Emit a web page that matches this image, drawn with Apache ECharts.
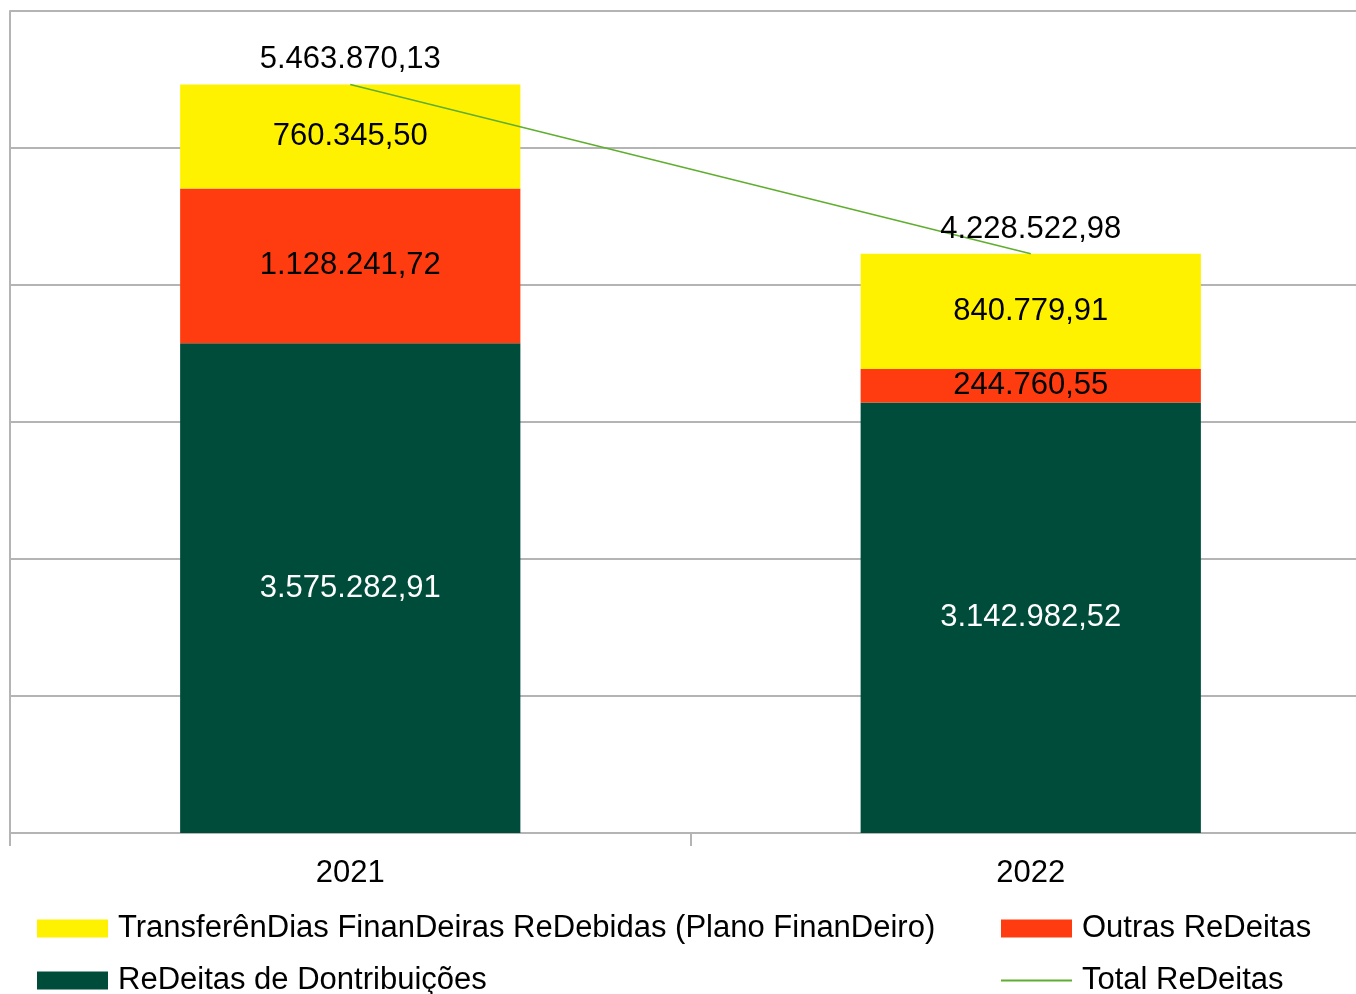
<!DOCTYPE html>
<html>
<head>
<meta charset="utf-8">
<script src="https://cdn.jsdelivr.net/npm/echarts@6/dist/echarts.min.js"></script>
<style>
  html, body { margin: 0; padding: 0; background: #fff; overflow: hidden; }
  #chart { width: 1371px; height: 994px; }
</style>
</head>
<body>
<div id="chart"></div>
<script>
const years = ['2021', '2022']
const contribuicoes = [3575282.91, 3142982.52]
const outras = [1128241.72, 244760.55]
const transferencias = [760345.50, 840779.91]
const totais = [5463870.13, 4228522.98]

const names = [
  'TransferênDias FinanDeiras ReDebidas (Plano FinanDeiro)',
  'Outras ReDeitas',
  'ReDeitas de Dontribuições',
  'Total ReDeitas'
]

const font = "'Liberation Sans', Arial, sans-serif"
const fontSize = 31
const gridColor = '#b4b4b4'
const lineColor = '#5fae2e'

// 1234567.8 -> 1.234.567,80
function fmt(v) {
  let parts = v.toFixed(2).split('.')
  let int = parts[0].replace(/\B(?=(\d{3})+(?!\d))/g, '.')
  return int + ',' + parts[1]
}

function barLabel(color) {
  return {
    show: true,
    position: 'inside',
    color: color,
    fontFamily: font,
    fontSize: fontSize,
    formatter: p => fmt(p.value)
  }
}

function legendAt(name, left, top, extra) {
  return Object.assign({
    data: [name],
    left: left,
    top: top,
    padding: 0,
    icon: 'rect',
    itemWidth: 71,
    itemHeight: 18,
    itemGap: 10,
    selectedMode: false,
    textStyle: { fontFamily: font, fontSize: fontSize, color: '#000', padding: [0, 0, 0, 5] }
  }, extra || {})
}

const option = {
  animation: false,
  backgroundColor: '#fff',
  grid: { left: 10, top: 11, right: 0, bottom: 161 },
  legend: [
    legendAt(names[0], 37, 913),
    legendAt(names[1], 1001, 913),
    legendAt(names[2], 37, 965),
    legendAt(names[3], 1001, 965, { itemHeight: 2, itemStyle: { color: lineColor } })
  ],
  xAxis: {
    type: 'category',
    data: years,
    axisLine: { lineStyle: { color: gridColor, width: 2 } },
    axisTick: { show: true, length: 13, lineStyle: { color: gridColor, width: 2 } },
    axisLabel: { margin: 25, color: '#000', fontFamily: font, fontSize: fontSize }
  },
  yAxis: {
    type: 'value',
    min: 0,
    max: 6000000,
    interval: 1000000,
    axisLabel: { show: false },
    axisTick: { show: false },
    axisLine: { show: true, lineStyle: { color: gridColor, width: 2 } },
    splitLine: { lineStyle: { color: gridColor, width: 2 } }
  },
  series: [
    {
      name: names[2],
      type: 'bar',
      stack: 'total',
      barWidth: '50%',
      itemStyle: { color: '#004c3b' },
      label: barLabel('#fff'),
      data: contribuicoes
    },
    {
      name: names[1],
      type: 'bar',
      stack: 'total',
      itemStyle: { color: '#ff3c10' },
      label: barLabel('#000'),
      data: outras
    },
    {
      name: names[0],
      type: 'bar',
      stack: 'total',
      itemStyle: { color: '#fff200' },
      label: barLabel('#000'),
      data: transferencias
    },
    {
      name: names[3],
      type: 'line',
      symbol: 'circle',
      symbolSize: 0,
      z: 5,
      lineStyle: { color: lineColor, width: 1.5 },
      itemStyle: { color: lineColor },
      label: {
        show: true,
        position: 'top',
        distance: 9,
        color: '#000',
        fontFamily: font,
        fontSize: fontSize,
        formatter: p => fmt(p.value)
      },
      data: totais
    }
  ]
}

const chart = echarts.init(document.getElementById('chart'))
chart.setOption(option)
</script>
</body>
</html>
